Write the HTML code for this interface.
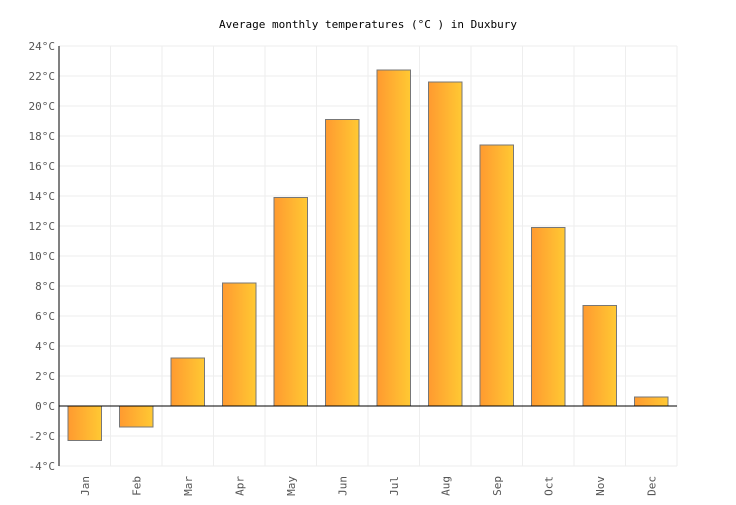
<!DOCTYPE html>
<html><head><meta charset="utf-8"><style>
body{margin:0;background:#fff}
svg text{font-family:"DejaVu Sans Mono","Liberation Mono",monospace;fill:#555;font-size:11px}
</style></head><body>
<svg width="736" height="500">
<defs><linearGradient id="g" x1="0" x2="1"><stop offset="0" stop-color="#ff9a30"/><stop offset="1" stop-color="#ffc933"/></linearGradient></defs>
<text x="368" y="28" text-anchor="middle" style="fill:#000;font-size:11px">Average monthly temperatures (°C ) in Duxbury</text>
<g id="grid"></g><g id="bars"></g><g id="axes"></g>
</svg>
<script>
const months=["Jan","Feb","Mar","Apr","May","Jun","Jul","Aug","Sep","Oct","Nov","Dec"];
const temps=[-2.3,-1.4,3.2,8.2,13.9,19.1,22.4,21.6,17.4,11.9,6.7,0.6];
const ticks=[-4,-2,0,2,4,6,8,10,12,14,16,18,20,22,24];
const X0=59,X1=677,Y0=466,Y1=46,vmin=-4,vmax=24;
const y=v=>Y0-(v-vmin)*(Y0-Y1)/(vmax-vmin);
const bw=(X1-X0)/months.length;
const x=i=>X0+i*bw;
const NS="http://www.w3.org/2000/svg";
function mk(t,a,p){const e=document.createElementNS(NS,t);for(const k in a)e.setAttribute(k,a[k]);p.appendChild(e);return e;}
const grid=document.getElementById('grid'),bars=document.getElementById('bars'),axes=document.getElementById('axes');
ticks.forEach(t=>{
 const l=mk('line',{x1:X0,x2:X1,y1:y(t),y2:y(t),stroke:'#eee'},grid);
 
 
 const tx=mk('text',{x:X0-4,y:y(t)+4,'text-anchor':'end'},axes);tx.textContent=t+'°C';
 
 
});
for(let i=0;i<=months.length;i++){
 const l=mk('line',{x1:x(i),x2:x(i),y1:Y1,y2:Y0,stroke:'#eee'},grid);
 
 
}
months.forEach((m,i)=>{
 const v=temps[i],top=Math.min(y(v),y(0)),h=Math.abs(y(v)-y(0));
 const r=mk('rect',{x:x(i)+9,y:top,width:bw-18,height:h,fill:'url(#g)',stroke:'#777','stroke-width':1},bars);
 
 
 const cx=x(i)+bw/2;
 const t=mk('text',{x:cx+4,y:Y0+10,'text-anchor':'end',transform:`rotate(-90 ${cx+4} ${Y0+10})`},axes);t.textContent=m;
 
 
});
const ax=mk('line',{x1:X0,x2:X0,y1:Y1,y2:Y0,stroke:'#000'},axes);


const zl=mk('line',{x1:X0,x2:X1,y1:y(0),y2:y(0),stroke:'#000'},axes);


</script>
</body></html>
